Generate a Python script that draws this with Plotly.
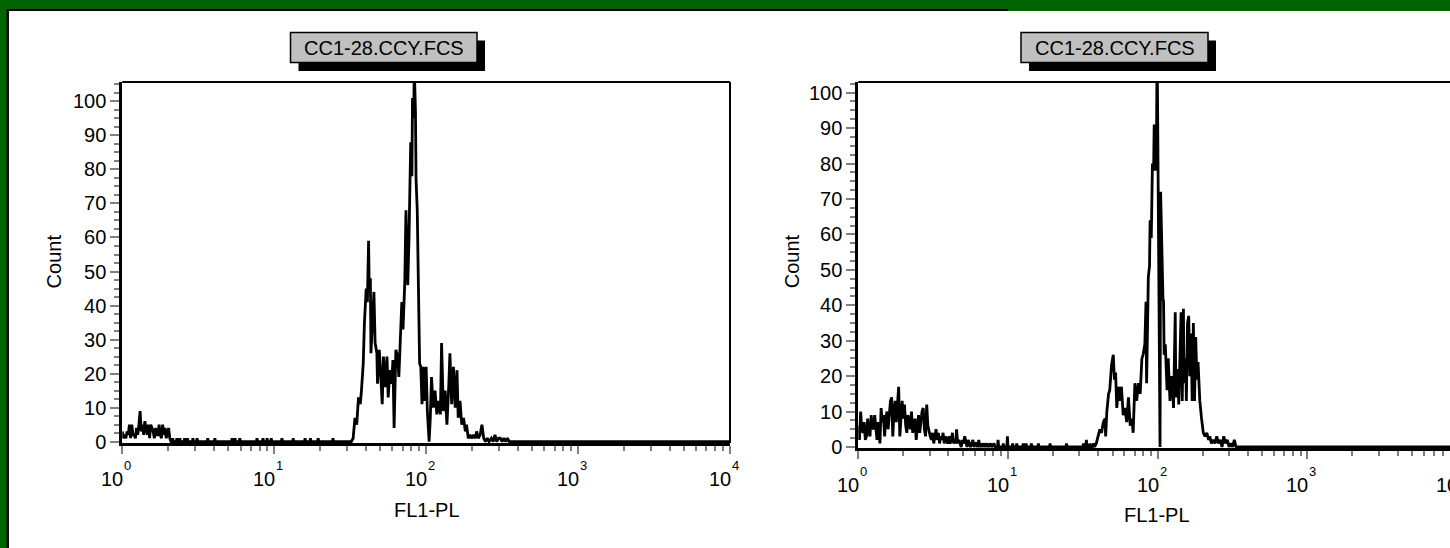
import plotly.graph_objects as go

# ---------------- DATA (FL1-PL channel, 256 channels per decade; count) ----------------
CH_PER_DECADE = 256

# Left histogram
left_low_channel = [0, 2, 4, 6, 8, 10, 12, 14, 16, 18, 20, 22, 24, 26, 28, 30, 32, 34, 36, 38,
                    40, 42, 44, 46, 48, 50, 52, 54, 56, 58, 60, 62, 64, 66, 68, 70, 72, 74, 76, 78, 80, 82]
left_low_count = [3, 1, 2, 1, 3, 2, 5, 1, 5, 2, 2, 1, 4, 2, 5, 9, 3, 5, 2, 6,
                  4, 2, 5, 1, 5, 4, 3, 1, 4, 2, 2, 5, 2, 1, 5, 2, 4, 1, 3, 4, 1, 0]

left_sparse_channel = [84, 85, 86, 91, 92, 93, 96, 97, 98, 104, 105, 106, 109, 110, 111,
                       118, 119, 120, 125, 126, 127, 143, 144, 145, 155, 156, 157, 184, 185, 186,
                       189, 190, 191, 197, 198, 199, 226, 227, 228, 236, 237, 238, 243, 244, 245,
                       250, 251, 252, 268, 269, 270, 287, 288, 289, 307, 308, 309, 316, 317, 318,
                       329, 330, 331, 354, 355, 356]
left_sparse_count = [0, 1, 0, 0, 1, 0, 0, 1, 0, 0, 1, 0, 0, 1, 0,
                     0, 1, 0, 0, 1, 0, 0, 1, 0, 0, 1, 0, 0, 1, 0,
                     0, 1, 0, 0, 1, 0, 0, 1, 0, 0, 1, 0, 0, 1, 0,
                     0, 1, 0, 0, 1, 0, 0, 1, 0, 0, 1, 0, 0, 1, 0,
                     0, 1, 0, 0, 1, 0]

left_main_channel = [386, 389, 392, 395, 398, 401, 403, 406, 408, 411,
                     413, 415, 416, 418, 419, 421, 424, 426, 429, 430,
                     433, 435, 438, 440, 443, 446, 448, 451, 454, 456,
                     458, 461, 464, 466, 468, 471, 473, 476, 478, 481,
                     483, 486, 488, 489, 491, 492, 494, 495, 497, 499,
                     501, 503, 505, 507, 510, 512, 514, 517, 519, 521,
                     524, 527, 530, 533, 536, 538, 541, 544, 547, 550,
                     552, 555, 558, 561, 564, 566, 569, 572, 575, 578,
                     580, 583, 586, 589, 592, 595, 597, 600, 603, 606,
                     609, 612, 615, 618, 622, 625, 628, 631, 634, 637,
                     640, 643, 646, 649, 652, 1023]
left_main_count = [0, 1, 7, 5, 13, 11, 15, 23, 35, 45,
                   41, 59, 46, 48, 26, 35, 44, 29, 26, 17,
                   27, 21, 11, 25, 16, 25, 13, 21, 17, 24,
                   4, 27, 25, 19, 30, 41, 33, 47, 68, 46,
                   59, 88, 78, 101, 95, 110, 97, 77, 68, 38,
                   23, 22, 11, 22, 12, 22, 9, 0, 7, 19,
                   10, 15, 8, 12, 8, 29, 9, 15, 5, 16,
                   26, 11, 22, 10, 21, 7, 12, 5, 7, 3,
                   5, 1, 2, 1, 2, 1, 3, 1, 2, 5,
                   1, 0, 1, 0, 1, 0, 2, 0, 1, 1,
                   0, 1, 0, 1, 0, 0]

# Right histogram
right_low_channel = [0, 2, 4, 6, 8, 10, 12, 14, 16, 18, 20, 22, 24, 26, 28, 30, 32, 34, 36, 37,
                     39, 41, 43, 45, 47, 49, 51, 53, 55, 57, 59, 61, 63, 65, 67, 69, 71, 73, 75, 77,
                     79, 81, 83, 85, 87, 89, 91, 93, 95, 97, 99, 101, 103, 105, 107, 109, 111, 113,
                     115, 117, 119, 121, 123, 125]
right_low_count = [6, 2, 10, 5, 4, 7, 2, 3, 8, 4, 3, 9, 6, 5, 9, 4, 2, 7, 3, 1,
                   11, 7, 9, 3, 8, 10, 5, 9, 13, 14, 3, 10, 13, 7, 12, 17, 3, 9, 13, 8,
                   12, 6, 4, 9, 7, 5, 10, 4, 6, 8, 2, 6, 9, 4, 8, 10, 11, 5,
                   3, 12, 6, 4, 3, 2]

right_sparse_channel = [127, 129, 131, 133, 135, 137, 139, 141, 143, 145,
                        147, 149, 151, 153, 155, 157, 159, 161, 163, 165,
                        167, 168,
                        170, 172, 174, 176, 178, 180, 182, 184, 186, 188,
                        190, 192, 194, 196, 198, 200, 202, 204, 206, 208,
                        210, 212,
                        215, 217, 220, 222, 226, 228, 232, 234,
                        238, 239, 240, 247, 248, 249, 254, 255, 256, 263, 264, 265,
                        270, 271, 272, 281, 282, 283, 286, 287, 288, 295, 296, 297,
                        307, 308, 309, 327, 328, 329, 355, 356, 357, 384, 385, 386,
                        389, 390, 391, 395, 396, 397, 400, 402, 404]
right_sparse_count = [4, 1, 3, 5, 2, 4, 1, 3, 2, 4,
                      1, 3, 2, 1, 3, 1, 2, 4, 1, 2,
                      1, 5,
                      1, 2, 1, 0, 2, 1, 3, 1, 0, 2,
                      1, 0, 1, 2, 0, 1, 1, 0, 2, 0,
                      1, 0,
                      1, 0, 1, 0, 1, 0, 1, 0,
                      0, 2, 0, 0, 1, 0, 0, 3, 0, 0, 1, 0,
                      0, 1, 0, 0, 1, 0, 0, 1, 0, 0, 1, 0,
                      0, 1, 0, 0, 1, 0, 0, 1, 0, 0, 1, 0,
                      0, 2, 0, 0, 1, 0, 0, 1, 0]

right_main_channel = [407, 410, 413, 416, 419, 422, 423, 425, 428, 430,
                      433, 436, 438, 440, 442, 445, 448, 450, 453, 456,
                      459, 462, 465, 468, 470, 473, 476, 479, 482, 485,
                      487, 490, 492, 493, 496, 498, 499, 501, 502, 503,
                      505, 506, 508, 510, 511, 516, 517, 519, 521, 522,
                      523, 525, 526, 528, 530, 533, 535, 537, 539, 542,
                      543, 546, 548, 550, 552, 554, 556, 557, 560, 561,
                      563, 565, 567, 569, 571, 573, 575, 577, 579, 581,
                      584, 587, 590, 593, 596, 599, 601, 604, 607, 610,
                      613, 616, 619, 622, 625, 628, 631, 634, 637, 640,
                      643, 646, 650, 1023]
right_main_count = [1, 3, 5, 4, 7, 8, 3, 10, 15, 16,
                    23, 26, 19, 21, 11, 17, 13, 17, 9, 11,
                    7, 14, 6, 8, 4, 18, 13, 18, 15, 25,
                    26, 29, 41, 18, 48, 51, 64, 59, 71, 80,
                    78, 91, 78, 88, 115, 0, 72, 54, 42, 41,
                    26, 29, 22, 16, 25, 13, 20, 18, 11, 38,
                    14, 22, 12, 29, 38, 13, 39, 18, 25, 13,
                    35, 37, 20, 32, 13, 35, 13, 31, 19, 24,
                    13, 8, 4, 3, 4, 2, 3, 1, 2, 1,
                    3, 1, 2, 0, 3, 1, 2, 0, 1, 0,
                    2, 0, 0, 0]

panel_title = "CC1-28.CCY.FCS"
x_title = "FL1-PL"
y_title = "Count"
decades = [0, 1, 2, 3, 4]

left_channel = left_low_channel + left_sparse_channel + left_main_channel
left_count = left_low_count + left_sparse_count + left_main_count
right_channel = right_low_channel + right_sparse_channel + right_main_channel
right_count = right_low_count + right_sparse_count + right_main_count


def to_fl1(channels):
    return [10 ** (c / CH_PER_DECADE) for c in channels]


# ---------------- LAYOUT HELPERS ----------------
W, H = 1450, 548
FONT = "Liberation Sans, Arial, sans-serif"
GRAY = "#808080"


def px(x):
    return x / W


def py(y):
    return 1 - y / H


L_X_DOM = [px(122.3), px(730)]
L_Y_DOM = [py(443), py(82)]
L_X_RANGE = [0, 4]
L_Y_RANGE = [-0.4, 105.7]

R_X_DOM = [px(858.3), 1.0]
R_X_RANGE = [0, (1450 - 858.3) / 149.7]
R_Y_DOM = [py(448.4), py(82)]
R_Y_RANGE = [-0.4, 103.0]


def log_to_paper(v, dom, rng):
    return dom[0] + (v - rng[0]) / (rng[1] - rng[0]) * (dom[1] - dom[0])


fig = go.Figure()
fig.add_trace(go.Scatter(x=to_fl1(left_channel), y=left_count, mode="lines",
                         line=dict(color="black", width=2.8), xaxis="x", yaxis="y",
                         showlegend=False, hoverinfo="skip"))
fig.add_trace(go.Scatter(x=to_fl1(right_channel), y=right_count, mode="lines",
                         line=dict(color="black", width=2.8), xaxis="x2", yaxis="y2",
                         showlegend=False, hoverinfo="skip"))


def xaxis_style(dom, rng, anchor):
    return dict(type="log", domain=dom, range=rng, anchor=anchor,
                showline=True, linewidth=3, linecolor="black",
                ticks="outside", ticklen=8, tickwidth=1.5, tickcolor=GRAY,
                tickmode="linear", tick0=0, dtick=1, showticklabels=False,
                showgrid=False, zeroline=False, fixedrange=True, automargin=False,
                minor=dict(dtick="D1", ticks="outside", ticklen=5, tickwidth=1.5,
                           tickcolor=GRAY, showgrid=False))


def yaxis_style(dom, rng, anchor):
    return dict(domain=dom, range=rng, anchor=anchor,
                showline=True, linewidth=3, linecolor="black",
                ticks="outside", ticklen=9, tickwidth=1.5, tickcolor=GRAY,
                tickmode="linear", tick0=0, dtick=10,
                tickfont=dict(family=FONT, size=20, color="black"),
                showgrid=False, zeroline=False, fixedrange=True, automargin=False,
                minor=dict(dtick=2.5, tick0=0, ticks="outside", ticklen=5, tickwidth=1.5,
                           tickcolor=GRAY, showgrid=False))


shapes = [
    # white panel and its black top/left edges
    dict(type="rect", xref="paper", yref="paper", x0=px(8.5), x1=1.0, y0=0, y1=py(11),
         fillcolor="white", line=dict(width=0), layer="below"),
    dict(type="line", xref="paper", yref="paper", x0=px(7), x1=px(1008), y0=py(10), y1=py(10),
         line=dict(color="black", width=2), layer="below"),
    dict(type="line", xref="paper", yref="paper", x0=px(7.8), x1=px(7.8), y0=0, y1=py(9),
         line=dict(color="black", width=2.3), layer="below"),
    # plot frames (top / right)
    dict(type="line", xref="x domain", yref="y domain", x0=0, x1=1, y0=1, y1=1,
         line=dict(color="black", width=2), layer="below"),
    dict(type="line", xref="x domain", yref="y domain", x0=1, x1=1, y0=0, y1=1,
         line=dict(color="black", width=2), layer="below"),
    dict(type="line", xref="x2 domain", yref="y2 domain", x0=0, x1=1, y0=1, y1=1,
         line=dict(color="black", width=2), layer="below"),
]

annotations = []
for (bx0, bx1, by0, by1) in [(290.5, 477, 32.5, 62.5), (1021, 1208, 32.5, 62.5)]:
    shapes.append(dict(type="rect", xref="paper", yref="paper",
                       x0=px(bx0 + 8), x1=px(bx1 + 8), y0=py(by1 + 8.5), y1=py(by0 + 8),
                       fillcolor="black", line=dict(width=0), layer="above"))
    shapes.append(dict(type="rect", xref="paper", yref="paper",
                       x0=px(bx0), x1=px(bx1), y0=py(by1), y1=py(by0),
                       fillcolor="#c0c0c0", line=dict(color="black", width=1.5), layer="above"))
    annotations.append(dict(text=panel_title, xref="paper", yref="paper",
                            x=px((bx0 + bx1) / 2), y=py((by0 + by1) / 2 + 0.5),
                            xanchor="center", yanchor="middle", showarrow=False,
                            font=dict(family=FONT, size=20, color="black")))

# axis titles
for (tx, ty) in [(54.4, 261), (791.7, 261.5)]:
    annotations.append(dict(text=y_title, xref="paper", yref="paper", x=px(tx), y=py(ty),
                            textangle=-90, xanchor="center", yanchor="middle", showarrow=False,
                            font=dict(family=FONT, size=20, color="black")))
for (tx, ty) in [(427, 510.3), (1157, 515)]:
    annotations.append(dict(text=x_title, xref="paper", yref="paper", x=px(tx), y=py(ty),
                            xanchor="center", yanchor="middle", showarrow=False,
                            font=dict(family=FONT, size=20, color="black")))

# decade tick labels: "10" with the exponent raised just after it
for dom, rng, base_y, exp_y in [(L_X_DOM, L_X_RANGE, 478.8, 465.5), (R_X_DOM, R_X_RANGE, 485, 471.5)]:
    for d in decades:
        xp = log_to_paper(d, dom, rng)
        annotations.append(dict(text="10", xref="paper", yref="paper", x=xp, y=py(base_y),
                                xanchor="right", yanchor="middle", xshift=1, showarrow=False,
                                borderpad=0, borderwidth=0,
                                font=dict(family=FONT, size=20, color="black")))
        annotations.append(dict(text=str(d), xref="paper", yref="paper", x=xp, y=py(exp_y),
                                xanchor="left", yanchor="middle", xshift=2, showarrow=False,
                                borderpad=0, borderwidth=0,
                                font=dict(family=FONT, size=13, color="black")))

fig.update_layout(
    width=W, height=H, autosize=False,
    margin=dict(l=0, r=0, t=0, b=0, pad=0, autoexpand=False),
    paper_bgcolor="#006400", plot_bgcolor="white",
    showlegend=False,
    font=dict(family=FONT, size=20, color="black"),
    xaxis=xaxis_style(L_X_DOM, L_X_RANGE, "y"),
    yaxis=yaxis_style(L_Y_DOM, L_Y_RANGE, "x"),
    xaxis2=xaxis_style(R_X_DOM, R_X_RANGE, "y2"),
    yaxis2=yaxis_style(R_Y_DOM, R_Y_RANGE, "x2"),
    shapes=shapes,
    annotations=annotations,
)

# page: no body margin, figure pinned at the top-left corner
page_style = ("var gd=document.getElementById('{plot_id}');"
              "document.body.style.margin='0px';document.body.style.padding='0px';"
              "document.body.style.overflow='hidden';"
              "document.documentElement.style.overflow='hidden';"
              "document.body.style.backgroundColor='#006400';"
              "gd.style.position='fixed';gd.style.left='0px';gd.style.top='0px';")
fig.write_html("out.html", post_script=page_style, config={"displayModeBar": False})
